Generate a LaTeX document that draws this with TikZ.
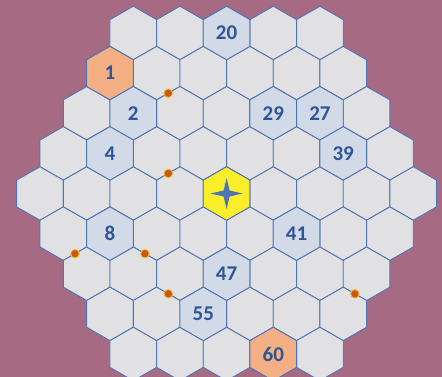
\documentclass[tikz,border=0pt]{standalone}
\usepackage{fontspec}
\setmainfont{Carlito}
\definecolor{bgcol}{RGB}{166,106,130}
\definecolor{hexgray}{RGB}{225,225,227}
\definecolor{hexblue}{RGB}{209,218,230}
\definecolor{hexorange}{RGB}{244,176,132}
\definecolor{hexyellow}{RGB}{250,238,42}
\definecolor{edgeblue}{RGB}{79,116,180}
\definecolor{txtblue}{RGB}{47,85,151}
\definecolor{dotfill}{RGB}{197,90,17}
\definecolor{dotring}{RGB}{255,180,40}
\newcommand\hexpath[2]{(#1,#2) ++(0,-26.75) -- ++(23.325,13.375) -- ++(0,26.75) -- ++(-23.325,13.375) -- ++(-23.325,-13.375) -- ++(0,-26.75) -- cycle}
\newcommand\hexcell[3]{%
  \pgfmathsetmacro\hx{40+abs(#1-4)*23.325+#2*46.65}%
  \pgfmathsetmacro\hy{33+40.125*#1}%
  \draw[hexline, fill=#3] \hexpath{\hx}{\hy};}
\begin{document}
\begin{tikzpicture}[x=1pt,y=-1pt,
  hexline/.style={draw=edgeblue, line width=0.9pt, line join=miter},
  lbl/.style={text=txtblue, font=\bfseries\fontsize{21}{21}\selectfont, inner sep=0pt},
  hdot/.style={circle, fill=dotfill, draw=dotring, line width=0.8pt, minimum size=8.5pt, inner sep=0pt}]
\fill[bgcol] (0,0) rectangle (442,377);
\useasboundingbox (0,0) rectangle (442,377);
\clip (0,0) rectangle (442,377);
% grid
\foreach \r in {0,...,8} {
  \pgfmathtruncatemacro\nlast{8-abs(\r-4)}
  \foreach \c in {0,...,\nlast} {
    \pgfmathsetmacro\hx{40+abs(\r-4)*23.325+\c*46.65}
    \pgfmathsetmacro\hy{33+40.125*\r}
    \draw[hexline, fill=hexgray] \hexpath{\hx}{\hy};
    \coordinate (h-\r-\c) at (\hx,\hy);
  }
}
% highlighted cells
\hexcell{1}{0}{hexorange}
\hexcell{8}{3}{hexorange}
\hexcell{0}{2}{hexblue}
\hexcell{2}{1}{hexblue}
\hexcell{2}{4}{hexblue}
\hexcell{2}{5}{hexblue}
\hexcell{3}{1}{hexblue}
\hexcell{3}{6}{hexblue}
\hexcell{5}{1}{hexblue}
\hexcell{5}{5}{hexblue}
\hexcell{6}{3}{hexblue}
\hexcell{7}{2}{hexblue}
\hexcell{4}{4}{hexyellow}
% star
\fill[edgeblue] ([shift={(0,-15.5)}]h-4-4) -- ([shift={(3,-3)}]h-4-4) -- ([shift={(16,0)}]h-4-4)
  -- ([shift={(3,3)}]h-4-4) -- ([shift={(0,15.5)}]h-4-4) -- ([shift={(-3,3)}]h-4-4)
  -- ([shift={(-16,0)}]h-4-4) -- ([shift={(-3,-3)}]h-4-4) -- cycle;
% labels
\node[lbl] (n1) at (h-1-0) {1};
\node[lbl] (n20) at (h-0-2) {20};
\node[lbl] (n2) at (h-2-1) {2};
\node[lbl] (n29) at (h-2-4) {29};
\node[lbl] (n27) at (h-2-5) {27};
\node[lbl] (n4) at (h-3-1) {4};
\node[lbl] (n39) at (h-3-6) {39};
\node[lbl] (n8) at (h-5-1) {8};
\node[lbl] (n41) at (h-5-5) {41};
\node[lbl] (n47) at (h-6-3) {47};
\node[lbl] (n55) at (h-7-2) {55};
\node[lbl] (n60) at (h-8-3) {60};
% dots on edges
\node[hdot] (d1) at ([shift={(11.66,20.06)}]h-1-1) {};
\node[hdot] (d2) at ([shift={(11.66,20.06)}]h-3-2) {};
\node[hdot] (d3) at ([shift={(11.66,20.06)}]h-5-0) {};
\node[hdot] (d4) at ([shift={(-11.66,20.06)}]h-5-2) {};
\node[hdot] (d5) at ([shift={(-11.66,20.06)}]h-6-2) {};
\node[hdot] (d6) at ([shift={(-11.66,20.06)}]h-6-6) {};
\end{tikzpicture}
\end{document}
